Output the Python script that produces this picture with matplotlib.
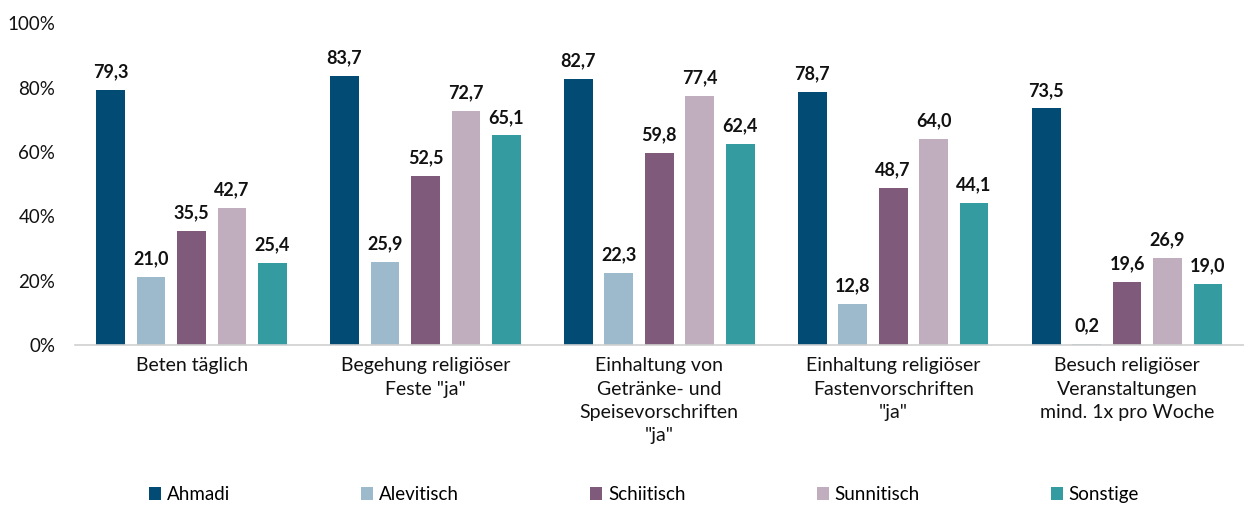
import matplotlib
matplotlib.use("Agg")
import matplotlib.pyplot as plt
import numpy as np
from matplotlib.ticker import FuncFormatter

plt.rcParams["font.family"] = ["Lato", "DejaVu Sans"]

categories = [
    "Beten täglich",
    "Begehung religiöser\nFeste \"ja\"",
    "Einhaltung von\nGetränke- und\nSpeisevorschriften\n\"ja\"",
    "Einhaltung religiöser\nFastenvorschriften\n\"ja\"",
    "Besuch religiöser\nVeranstaltungen\nmind. 1x pro Woche",
]
groups = ["Ahmadi", "Alevitisch", "Schiitisch", "Sunnitisch", "Sonstige"]
ahmadi = [79.3, 83.7, 82.7, 78.7, 73.5]
alevitisch = [21.0, 25.9, 22.3, 12.8, 0.2]
schiitisch = [35.5, 52.5, 59.8, 48.7, 19.6]
sunnitisch = [42.7, 72.7, 77.4, 64.0, 26.9]
sonstige = [25.4, 65.1, 62.4, 44.1, 19.0]
colors = ["#024b74", "#9db9cc", "#7f5a7a", "#c0adbe", "#349ca1"]

series = [ahmadi, alevitisch, schiitisch, sunnitisch, sonstige]

fig = plt.figure(figsize=(12.44, 5.05), dpi=100)
ax = fig.add_axes([0.060, 0.317, 0.940, 0.637])

x = np.arange(len(categories))
step = 0.173
width = 0.123
for i, (name, vals, col) in enumerate(zip(groups, series, colors)):
    pos = x + (i - 2) * step
    bars = ax.bar(pos, vals, width, color=col, label=name)
    for b, v in zip(bars, vals):
        ax.annotate(f"{v:.1f}".replace(".", ","), (b.get_x() + b.get_width() / 2, v),
                    xytext=(0, 7), textcoords="offset points", ha="center", va="bottom",
                    fontsize=13, fontweight="bold", color="#111111")

ax.set_xlim(-0.5, len(categories) - 0.5)
ax.set_ylim(0, 100)
ax.set_yticks(np.arange(0, 101, 20))
ax.yaxis.set_major_formatter(FuncFormatter(lambda v, _: f"{v:.0f}%"))
ax.set_xticks(x)
ax.set_xticklabels(categories, fontsize=14, linespacing=1.45, va="top")
ax.tick_params(axis="both", length=0, colors="#111111")
ax.tick_params(axis="x", pad=9)
ax.tick_params(axis="y", labelsize=13.5, pad=14)
for s in ["top", "right", "left"]:
    ax.spines[s].set_visible(False)
ax.spines["bottom"].set_color("#d0d0d0")
ax.spines["bottom"].set_linewidth(1.2)

fig.legend(loc="lower left", bbox_to_anchor=(0.106, -0.03), ncol=5, frameon=False,
           fontsize=13.5, handlelength=0.65, handleheight=0.65, handletextpad=0.3,
           columnspacing=7.0)

fig.savefig("out.png", dpi=100)
